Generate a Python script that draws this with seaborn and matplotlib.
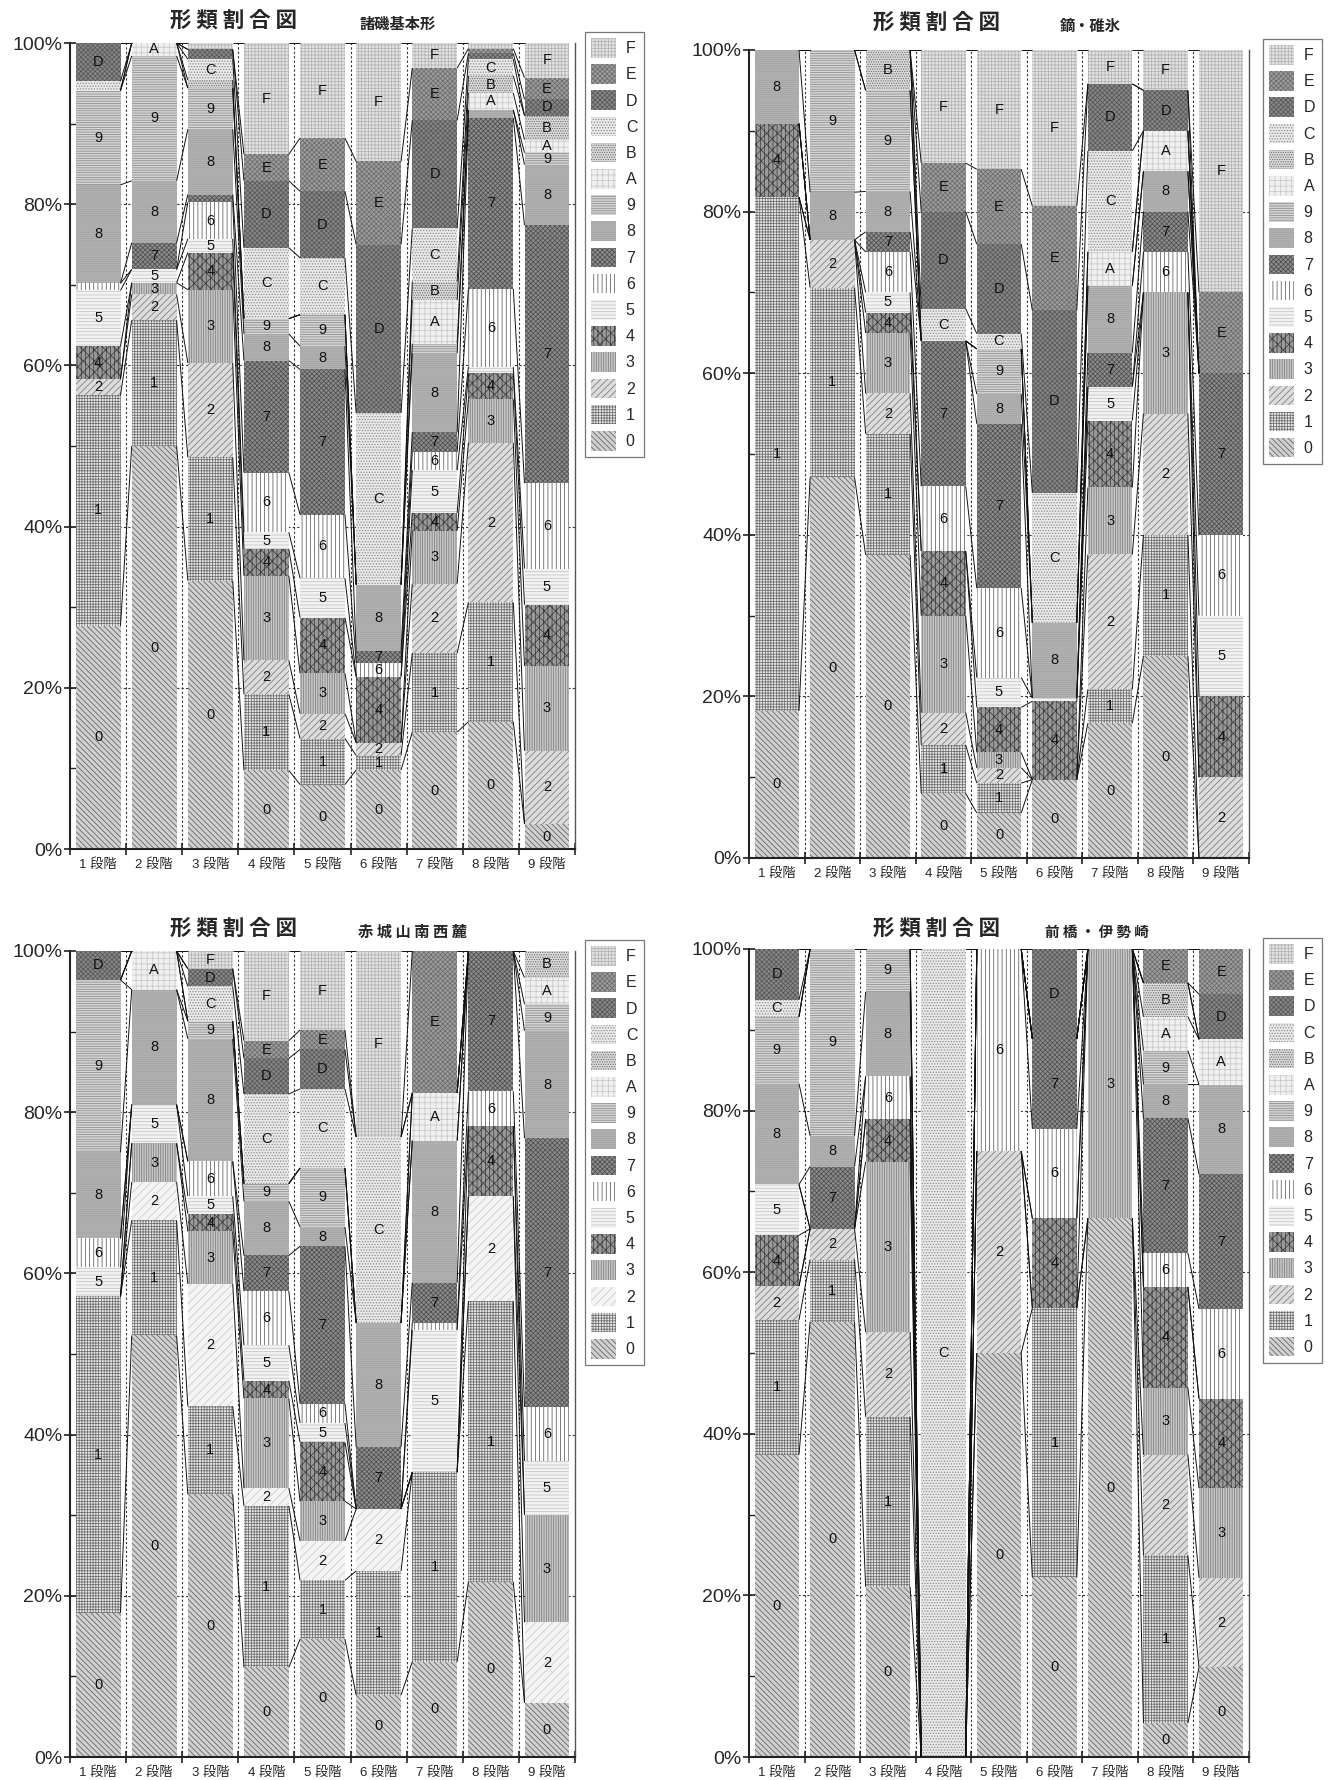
import numpy as np
import pandas as pd
import matplotlib
matplotlib.use("Agg")
import matplotlib.pyplot as plt
from matplotlib.patches import Patch
from matplotlib.ticker import MultipleLocator, FuncFormatter
import seaborn as sns

STAGES = ["1 段階", "2 段階", "3 段階", "4 段階", "5 段階",
          "6 段階", "7 段階", "8 段階", "9 段階"]
TYPES = ["0", "1", "2", "3", "4", "5", "6", "7", "8", "9",
         "A", "B", "C", "D", "E", "F"]

# ---- 諸磯基本形 : share (%) of each type per stage ----
MOROISO_0 = [27.7, 50.0, 33.3, 9.75, 8.0, 9.8, 14.5, 15.8, 3.1]
MOROISO_1 = [28.6, 15.6, 15.3, 9.45, 5.7, 1.8, 9.8, 14.8, 0]
MOROISO_2 = [2.0, 3.2, 11.7, 4.2, 3.1, 1.6, 8.6, 19.8, 9.1]
MOROISO_3 = [0, 1.45, 9.1, 10.5, 5.0, 0, 6.6, 5.4, 10.5]
MOROISO_4 = [4.1, 0, 4.6, 3.3, 6.9, 8.2, 2.2, 3.2, 7.6]
MOROISO_5 = [6.9, 1.65, 1.7, 2.1, 4.9, 0, 5.3, 0.8, 4.5]
MOROISO_6 = [0.9, 0, 4.55, 7.4, 7.9, 1.7, 2.3, 9.7, 10.6]
MOROISO_7 = [0, 3.3, 0.95, 13.9, 18.0, 1.5, 2.4, 21.2, 32.0]
MOROISO_8 = [12.2, 7.7, 8.1, 3.3, 2.9, 8.2, 9.8, 1.0, 7.5]
MOROISO_9 = [11.7, 15.5, 5.1, 1.9, 3.9, 0, 1.2, 0, 1.5]
MOROISO_A = [0, 1.6, 0, 0, 0, 0, 5.4, 2.1, 1.6]
MOROISO_B = [0, 0, 1.0, 0, 0, 0, 2.3, 2.1, 3.0]
MOROISO_C = [1.15, 0, 2.6, 8.8, 7.05, 21.3, 6.6, 2.1, 0]
MOROISO_D = [4.75, 0, 1.2, 8.3, 8.25, 20.9, 13.4, 0.7, 2.0]
MOROISO_E = [0, 0, 0, 3.3, 6.6, 10.3, 6.5, 0.6, 2.7]
MOROISO_F = [0, 0, 0.8, 13.8, 11.8, 14.7, 3.1, 0.7, 4.3]

# ---- 鏑・碓氷 ----
KABURA_0 = [18.2, 47.1, 37.5, 8, 5.6, 9.7, 16.7, 25, 0]
KABURA_1 = [63.6, 23.5, 15.0, 6, 3.7, 0, 4.2, 15, 0]
KABURA_2 = [0, 5.9, 5.0, 4, 1.9, 0, 16.7, 15, 10]
KABURA_3 = [0, 0, 7.5, 12, 1.9, 0, 8.3, 15, 0]
KABURA_4 = [9.1, 0, 2.5, 8, 5.6, 9.7, 8.3, 0, 10]
KABURA_5 = [0, 0, 2.5, 0, 3.7, 0.4, 4.2, 0, 10]
KABURA_6 = [0, 0, 5.0, 8, 11.1, 0, 0, 5, 10]
KABURA_7 = [0, 0, 2.5, 18, 20.4, 0, 4.2, 5, 20]
KABURA_8 = [9.1, 5.9, 5.0, 0, 3.7, 9.3, 8.3, 5, 0]
KABURA_9 = [0, 17.6, 12.5, 0, 5.6, 0, 0, 0, 0]
KABURA_A = [0, 0, 0, 0, 0, 0, 4.2, 5, 0]
KABURA_B = [0, 0, 5.0, 0, 0, 0, 0, 0, 0]
KABURA_C = [0, 0, 0, 4, 1.9, 16.1, 12.5, 0, 0]
KABURA_D = [0, 0, 0, 12, 11.1, 22.6, 8.3, 5, 0]
KABURA_E = [0, 0, 0, 6, 9.3, 12.9, 0, 0, 10]
KABURA_F = [0, 0, 0, 14, 14.8, 19.3, 4.2, 5, 30]

# ---- 赤城山南西麓 ----
AKAGI_0 = [17.9, 52.4, 32.6, 11.1, 14.6, 7.7, 11.8, 21.7, 6.7]
AKAGI_1 = [39.3, 14.3, 10.9, 20.0, 7.3, 15.4, 23.5, 34.8, 0]
AKAGI_2 = [0, 4.8, 15.2, 2.2, 4.9, 7.7, 0, 13.0, 10.0]
AKAGI_3 = [0, 4.8, 6.5, 11.1, 4.9, 0, 0, 0, 13.3]
AKAGI_4 = [0, 0, 2.2, 2.2, 7.3, 0, 0, 8.7, 0]
AKAGI_5 = [3.6, 4.8, 2.2, 4.4, 2.4, 0, 17.6, 0, 6.7]
AKAGI_6 = [3.6, 0, 4.3, 6.7, 2.4, 0, 0.9, 4.3, 6.7]
AKAGI_7 = [0, 0, 0, 4.4, 19.5, 7.7, 5.0, 17.4, 33.3]
AKAGI_8 = [10.7, 14.3, 15.2, 6.7, 2.4, 15.4, 17.6, 0, 13.3]
AKAGI_9 = [21.4, 0, 2.2, 2.2, 7.3, 0, 0, 0, 3.3]
AKAGI_A = [0, 4.8, 0, 0, 0, 0, 5.9, 0, 3.3]
AKAGI_B = [0, 0, 0, 0, 0, 0, 0, 0, 3.3]
AKAGI_C = [0, 0, 4.3, 11.1, 9.8, 23.1, 0, 0, 0]
AKAGI_D = [3.6, 0, 2.2, 4.4, 4.9, 0, 0, 0, 0]
AKAGI_E = [0, 0, 0, 2.2, 2.4, 0, 17.6, 0, 0]
AKAGI_F = [0, 0, 2.2, 11.1, 9.8, 23.1, 0, 0, 0]

# ---- 前橋・伊勢崎 ----
MAEBASHI_0 = [37.5, 53.8, 21.1, 0, 50, 22.2, 66.7, 4.2, 11.1]
MAEBASHI_1 = [16.7, 7.7, 21.1, 0, 0, 33.3, 0, 20.8, 0]
MAEBASHI_2 = [4.2, 3.8, 10.5, 0, 25, 0, 0, 12.5, 11.1]
MAEBASHI_3 = [0, 0, 21.1, 0, 0, 0, 33.3, 8.3, 11.1]
MAEBASHI_4 = [6.3, 0, 5.3, 0, 0, 11.1, 0, 12.5, 11.1]
MAEBASHI_5 = [6.3, 0, 0, 0, 0, 0, 0, 0, 0]
MAEBASHI_6 = [0, 0, 5.3, 0, 25, 11.1, 0, 4.2, 11.1]
MAEBASHI_7 = [0, 7.7, 0, 0, 0, 11.1, 0, 16.7, 16.7]
MAEBASHI_8 = [12.5, 3.8, 10.5, 0, 0, 0, 0, 4.2, 11.1]
MAEBASHI_9 = [8.3, 23.1, 5.3, 0, 0, 0, 0, 4.2, 0]
MAEBASHI_A = [0, 0, 0, 0, 0, 0, 0, 4.2, 5.6]
MAEBASHI_B = [0, 0, 0, 0, 0, 0, 0, 4.2, 0]
MAEBASHI_C = [2.1, 0, 0, 100, 0, 0, 0, 0, 0]
MAEBASHI_D = [6.3, 0, 0, 0, 0, 11.1, 0, 0, 5.6]
MAEBASHI_E = [0, 0, 0, 0, 0, 0, 0, 4.2, 5.6]
MAEBASHI_F = [0, 0, 0, 0, 0, 0, 0, 0, 0]

MOROISO = [MOROISO_0, MOROISO_1, MOROISO_2, MOROISO_3, MOROISO_4, MOROISO_5,
           MOROISO_6, MOROISO_7, MOROISO_8, MOROISO_9, MOROISO_A, MOROISO_B,
           MOROISO_C, MOROISO_D, MOROISO_E, MOROISO_F]
KABURA = [KABURA_0, KABURA_1, KABURA_2, KABURA_3, KABURA_4, KABURA_5,
          KABURA_6, KABURA_7, KABURA_8, KABURA_9, KABURA_A, KABURA_B,
          KABURA_C, KABURA_D, KABURA_E, KABURA_F]
AKAGI = [AKAGI_0, AKAGI_1, AKAGI_2, AKAGI_3, AKAGI_4, AKAGI_5,
         AKAGI_6, AKAGI_7, AKAGI_8, AKAGI_9, AKAGI_A, AKAGI_B,
         AKAGI_C, AKAGI_D, AKAGI_E, AKAGI_F]
MAEBASHI = [MAEBASHI_0, MAEBASHI_1, MAEBASHI_2, MAEBASHI_3, MAEBASHI_4,
            MAEBASHI_5, MAEBASHI_6, MAEBASHI_7, MAEBASHI_8, MAEBASHI_9,
            MAEBASHI_A, MAEBASHI_B, MAEBASHI_C, MAEBASHI_D, MAEBASHI_E,
            MAEBASHI_F]

# fill pattern for each type: face colour, hatch, hatch colour
STYLE = {
    "0": ("#d0d0d0", "\\" * 6, "#606060"),
    "1": ("#e6e6e6", "+" * 6, "#6e6e6e"),
    "2": ("#dcdcdc", "/" * 5, "#7c7c7c"),
    "3": ("#c6c6c6", "|" * 7, "#7e7e7e"),
    "4": ("#9a9a9a", "||||xxx", "#404040"),
    "5": ("#f2f2f2", "-" * 5, "#c4c4c4"),
    "6": ("#ffffff", "|" * 4, "#5a5a5a"),
    "7": ("#8c8c8c", "x" * 7, "#505050"),
    "8": ("#b2b2b2", "-" * 8, "#a4a4a4"),
    "9": ("#d4d4d4", "-" * 7, "#8c8c8c"),
    "A": ("#f0f0f0", "+" * 3, "#c8c8c8"),
    "B": ("#dadada", "." * 7, "#6a6a6a"),
    "C": ("#e8e8e8", "." * 6, "#8a8a8a"),
    "D": ("#868686", "x" * 7, "#585858"),
    "E": ("#9c9c9c", "x" * 7, "#6c6c6c"),
    "F": ("#e2e2e2", "+" * 5, "#b2b2b2"),
}
LIGHT_2 = ("#f4f4f4", "/" * 4, "#cacaca")

W, H = 1338, 1780

sns.set_style("ticks")
plt.rcParams["font.family"] = ["Liberation Sans", "Noto Sans CJK JP", "DejaVu Sans"]
plt.rcParams["hatch.linewidth"] = 0.55

fig = plt.figure(figsize=(W / 100, H / 100), dpi=100)


def rect(left, top, right, bottom):
    return [left / W, 1 - bottom / H, (right - left) / W, (bottom - top) / H]


def draw_panel(ax, series, styles, legend_anchor):
    values = np.array(series, dtype=float)
    values = values / values.sum(axis=0) * 100.0
    bottoms = np.zeros(len(STAGES))

    # grid behind the bars
    for y in (20, 40, 60, 80):
        ax.axhline(y, color="#333333", lw=0.8, ls=(0, (2, 2)), zorder=0.5)
    for x in np.arange(0.5, 8.5, 1):
        ax.axvline(x, color="#333333", lw=0.8, ls=(0, (2, 2)), zorder=0.5)

    for k, t in enumerate(TYPES):
        fc, hatch, hc = styles[t]
        df = pd.DataFrame({"stage": STAGES, "pct": values[k]})
        sns.barplot(data=df, x="stage", y="pct", order=STAGES, color=fc,
                    saturation=1, width=0.8, errorbar=None, ax=ax,
                    bottom=bottoms.copy(), hatch=hatch, edgecolor=hc,
                    linewidth=0, zorder=2)
        for j in range(len(STAGES)):
            v = values[k, j]
            if v >= 1.4:
                ax.text(j, bottoms[j] + v / 2, t, ha="center", va="center",
                        fontsize=10.5, color="#111111", zorder=6)
        tops = bottoms + values[k]
        # series lines joining the top of each type between neighbouring bars
        for j in range(len(STAGES) - 1):
            ax.plot([j + 0.4, j + 0.6], [tops[j], tops[j + 1]],
                    color="#111111", lw=0.7, zorder=4, solid_capstyle="butt")
        bottoms = tops

    ax.set_xlim(-0.5, 8.5)
    ax.set_ylim(0, 100)
    ax.set_xlabel("")
    ax.set_ylabel("")
    ax.yaxis.set_major_locator(MultipleLocator(20))
    ax.yaxis.set_minor_locator(MultipleLocator(10))
    ax.yaxis.set_major_formatter(FuncFormatter(lambda v, p: f"{v:.0f}%"))
    ax.tick_params(axis="y", which="major", direction="inout", length=9,
                   width=1.2, labelsize=14, pad=1, color="#222222")
    ax.tick_params(axis="y", which="minor", direction="in", length=4,
                   width=1, color="#222222")
    ax.set_xticks(range(len(STAGES)))
    ax.set_xticklabels(STAGES)
    ax.set_xticks(np.arange(-0.5, 9, 1), minor=True)
    ax.tick_params(axis="x", which="major", length=0, labelsize=9.5, pad=7)
    ax.tick_params(axis="x", which="minor", direction="inout", length=9,
                   width=1.2, color="#222222")
    for side in ("left", "bottom"):
        ax.spines[side].set_color("#222222")
        ax.spines[side].set_linewidth(1.5)
    ax.spines["right"].set_color("#555555")
    ax.spines["right"].set_linewidth(1.0)
    ax.spines["right"].set_visible(True)
    ax.spines["top"].set_visible(False)
    ax.set_facecolor("white")

    handles = [Patch(facecolor=styles[t][0], hatch=styles[t][1],
                     edgecolor=styles[t][2], linewidth=0)
               for t in reversed(TYPES)]
    leg = ax.legend(handles, list(reversed(TYPES)), loc="upper left",
                    bbox_to_anchor=legend_anchor, borderaxespad=0,
                    frameon=True, fancybox=False, edgecolor="#555555",
                    fontsize=11.5, handlelength=1.55, handleheight=1.5,
                    labelspacing=0.42, handletextpad=0.6, borderpad=0.4)
    leg.get_frame().set_linewidth(0.9)


PANELS = [
    (MOROISO, "諸磯基本形", rect(70, 43, 575, 849), (1.02, 1.014),
     (234, 20), (398, 24), 11, {}),
    (KABURA, "鏑・碓氷", rect(749, 50, 1249, 858), (1.028, 1.014),
     (937, 22), (1090, 26), 11, {}),
    (AKAGI, "赤 城 山 南 西 麓", rect(70, 951, 575, 1757), (1.02, 1.014),
     (234, 928), (412, 932), 11, {"2": LIGHT_2}),
    (MAEBASHI, "前 橋 ・ 伊 勢 崎", rect(749, 949, 1249, 1757), (1.028, 1.014),
     (937, 928), (1097, 932), 10.5, {}),
]

for series, subtitle, box, anchor, tpos, spos, ssize, override in PANELS:
    ax = fig.add_axes(box)
    styles = dict(STYLE)
    styles.update(override)
    draw_panel(ax, series, styles, anchor)
    fig.text(tpos[0] / W, 1 - tpos[1] / H, "形 類 割 合 図", ha="center",
             va="center", fontsize=15.5, fontweight="bold",
             family=["Noto Sans CJK JP", "DejaVu Sans"])
    fig.text(spos[0] / W, 1 - spos[1] / H, subtitle, ha="center",
             va="center", fontsize=ssize, fontweight="bold",
             family=["Noto Sans CJK JP", "DejaVu Sans"])

fig.savefig("out.png", dpi=100, facecolor="white")
